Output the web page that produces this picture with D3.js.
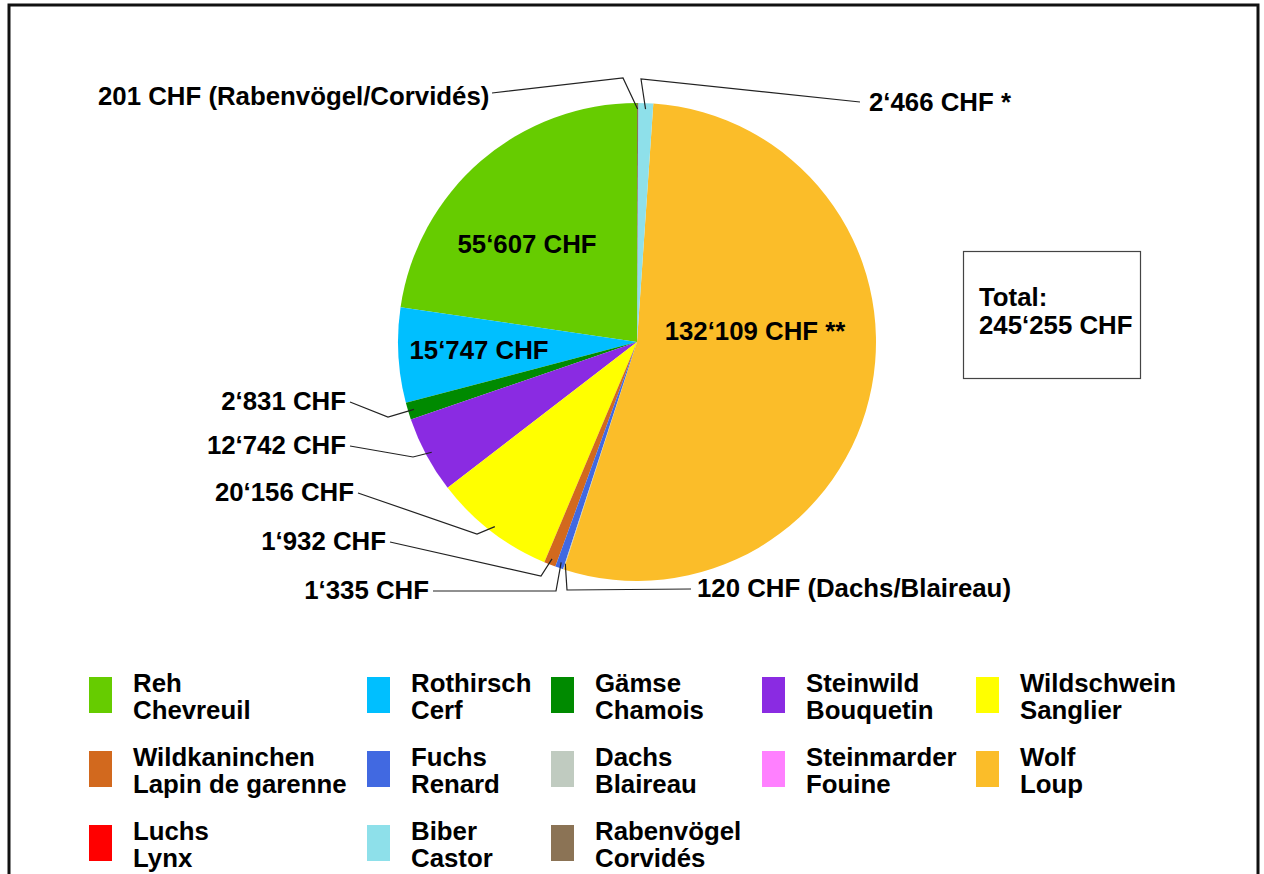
<!DOCTYPE html>
<html>
<head>
<meta charset="utf-8">
<script src="https://cdn.jsdelivr.net/npm/d3@7"></script>
<style>
  body { margin: 0; background: #fff; }
  text { font-family: "Liberation Sans", Arial, sans-serif; font-weight: bold; fill: #000; font-size: 25.8px; }
</style>
</head>
<body>
<svg id="chart" width="1264" height="874"></svg>
<script>
// species, in pie order (counter-clockwise from 12 o'clock)
var speciesDe = ["Reh", "Rothirsch", "Gämse", "Steinwild", "Wildschwein", "Wildkaninchen",
  "Fuchs", "Dachs", "Steinmarder", "Wolf", "Luchs", "Biber", "Rabenvögel"];
var speciesFr = ["Chevreuil", "Cerf", "Chamois", "Bouquetin", "Sanglier", "Lapin de garenne",
  "Renard", "Blaireau", "Fouine", "Loup", "Lynx", "Castor", "Corvidés"];
var damageChf = [55607, 15747, 2831, 12742, 20156, 1932, 1335, 120, 0, 132109, 0, 2466, 201];
var colors = ["#66cc00", "#00bfff", "#008a00", "#8a2be2", "#ffff00", "#d2691e",
  "#4169e1", "#c0cbc0", "#ff80ff", "#fbbd29", "#ff0000", "#8ee0ea", "#8b7355"];
var totalChf = 245255;
var labelSuffix = ["", "", "", "", "", "", "", " (Dachs/Blaireau)", "", " **", "", " *", " (Rabenvögel/Corvidés)"];

var fmt = function(v) {
  return d3.format(",")(v).replace(/,/g, "\u2018") + " CHF";
};

var svg = d3.select("#chart"),
  cx = 637, cy = 342, R = 239;

// frame
svg.append("rect")
  .attr("x", 9).attr("y", 5).attr("width", 1249).attr("height", 900)
  .attr("fill", "none").attr("stroke", "#111").attr("stroke-width", 3);

var pie = d3.pie().sort(null).startAngle(0).endAngle(-2 * Math.PI);
var arcs = pie(damageChf);
var arc = d3.arc().innerRadius(0).outerRadius(R);
var anchorArc = d3.arc().innerRadius(233).outerRadius(233);

var g = svg.append("g").attr("transform", "translate(" + cx + "," + cy + ")");
g.selectAll("path.slice").data(arcs).enter().append("path")
  .attr("class", "slice")
  .attr("d", arc)
  .attr("fill", function(d, i) { return colors[i]; });

// label layout: index -> text position (absolute), anchor, elbow point
var outside = [
  { i: 2, x: 346, y: 410, anchor: "end", elbow: [388, 417] },
  { i: 3, x: 346, y: 454, anchor: "end", elbow: [413, 457] },
  { i: 4, x: 354, y: 501, anchor: "end", elbow: [477, 534] },
  { i: 5, x: 386, y: 550, anchor: "end", elbow: [541, 576] },
  { i: 6, x: 429, y: 599, anchor: "end", elbow: [556, 591] },
  { i: 7, x: 697, y: 597, anchor: "start", elbow: [567, 590] },
  { i: 12, x: 98, y: 105, anchor: "start", elbow: [623, 78], lineStart: [492, 93] },
  { i: 11, x: 869, y: 111, anchor: "start", elbow: [641, 79], lineStart: [860, 102] }
];
var inside = [
  { i: 0, x: 527, y: 253 },
  { i: 1, x: 479, y: 359 },
  { i: 9, x: 755, y: 340 }
];

outside.forEach(function(o) {
  var c = anchorArc.centroid(arcs[o.i]);
  var start = o.lineStart || [o.anchor === "end" ? o.x + 4 : o.x - 6, o.y - 8];
  svg.append("path")
    .attr("d", d3.line()([start, o.elbow, [cx + c[0], cy + c[1]]]))
    .attr("fill", "none").attr("stroke", "#222").attr("stroke-width", 1.2);
  svg.append("text")
    .attr("x", o.x).attr("y", o.y)
    .attr("text-anchor", o.anchor)
    .text(fmt(damageChf[o.i]) + labelSuffix[o.i]);
});

inside.forEach(function(o) {
  svg.append("text")
    .attr("x", o.x).attr("y", o.y)
    .attr("text-anchor", "middle")
    .text(fmt(damageChf[o.i]) + labelSuffix[o.i]);
});

// total box
svg.append("rect")
  .attr("x", 963.5).attr("y", 251.5).attr("width", 177).attr("height", 127)
  .attr("fill", "#fff").attr("stroke", "#444").attr("stroke-width", 1.2);
svg.append("text").attr("x", 979).attr("y", 306).text("Total:");
svg.append("text").attr("x", 979).attr("y", 334).text(fmt(totalChf));

// legend: 5 columns, row-major
var legendCols = [89, 367, 551, 762, 976];
var legendRows = [677, 751, 825];
var leg = svg.selectAll("g.leg").data(speciesDe).enter().append("g")
  .attr("class", "leg")
  .attr("transform", function(d, i) {
    return "translate(" + legendCols[i % 5] + "," + legendRows[Math.floor(i / 5)] + ")";
  });
leg.append("rect")
  .attr("width", 23).attr("height", 36)
  .attr("fill", function(d, i) { return colors[i]; });
leg.append("text").attr("x", 44).attr("y", 15).text(function(d) { return d; });
leg.append("text").attr("x", 44).attr("y", 42).text(function(d, i) { return speciesFr[i]; });
</script>
</body>
</html>
